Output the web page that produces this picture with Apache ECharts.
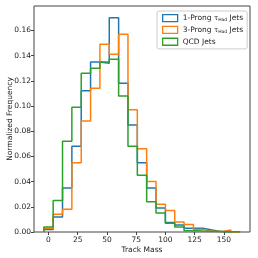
<!DOCTYPE html>
<html><head><meta charset="utf-8">
<script src="https://cdn.jsdelivr.net/npm/echarts@6/dist/echarts.min.js"></script>
<style>html,body{margin:0;padding:0;background:#fff}#c{width:258px;height:258px}</style>
</head><body><div id="c"></div>
<script>
var binEdges = [-4,4,12,20,28,36,44,52,60,68,76,84,92,100,108,116,124,132,140,148,156,164];
var oneProng = [0.002,0.012,0.035,0.068,0.112,0.135,0.134,0.170,0.118,0.085,0.055,0.035,0.019,0.0075,0.0055,0.003,0.003,0.0015,0.0003,0,0];
var threeProng = [0.003,0.014,0.018,0.055,0.088,0.114,0.149,0.141,0.157,0.097,0.066,0.040,0.022,0.017,0.008,0.006,0.002,0.0005,0.0003,0.0016,0];
var qcd = [0.004,0.025,0.072,0.099,0.126,0.130,0.135,0.137,0.108,0.068,0.045,0.024,0.015,0.007,0.004,0.001,0.0007,0.0005,0.0003,0.0001,0.0002];
var xTicks = [0,25,50,75,100,125,150];
var yTicks = [0,0.02,0.04,0.06,0.08,0.10,0.12,0.14,0.16];
var names = ['1-Prong {t|τ}{s|Had} Jets','3-Prong {t|τ}{s|Had} Jets','QCD Jets'];
var colors = ['#1f77b4','#ff7f0e','#2ca02c'];

function stepData(vals){
  var d = [[binEdges[0],0]];
  for (var i=0;i<vals.length;i++){ d.push([binEdges[i],vals[i]]); d.push([binEdges[i+1],vals[i]]); }
  d.push([binEdges[binEdges.length-1],0]);
  return d;
}
var span = binEdges[binEdges.length-1]-binEdges[0];
var xMin = binEdges[0]-0.05*span, xMax = binEdges[binEdges.length-1]+0.05*span;
var yMax = 0.170*1.055;
var font = 'DejaVu Sans';
var chart = echarts.init(document.getElementById('c'), null, {renderer:'canvas'});
var series = [oneProng, threeProng, qcd].map(function(v,i){
  return {name:names[i], type:'line', data:stepData(v), showSymbol:false, symbol:'none',
    lineStyle:{color:colors[i], width:1.5}, itemStyle:{color:colors[i]}, z:2+i, animation:false};
});
chart.setOption({
  animation:false,
  grid:{left:34,right:8,top:6,bottom:26,show:true,borderColor:'#444',borderWidth:1,backgroundColor:'transparent',
    outerBoundsMode:'none', containLabel:false},
  legend:{
    left:157, top:11, orient:'vertical', padding:[3,4,3,5], itemGap:3.5, itemWidth:15, itemHeight:7,
    backgroundColor:'#fff', borderColor:'#ccc', borderWidth:1, borderRadius:2,
    icon:'rect',
    textStyle:{fontFamily:font, fontSize:7.5, color:'#222',
      rich:{t:{fontFamily:font,fontSize:7,color:'#222'},s:{fontFamily:font,fontSize:4.5,color:'#222',padding:[3,0,0,0]}}},
    data: names.map(function(n,i){return {name:n, itemStyle:{color:'rgba(0,0,0,0)',borderColor:colors[i],borderWidth:1.3}};})
  },
  xAxis:{type:'value', min:xMin, max:xMax,
    name:'Track Mass', nameLocation:'middle', nameGap:14, nameMoveOverlap:false,
    nameTextStyle:{fontFamily:font,fontSize:7.5,color:'#222'},
    axisLine:{show:false, onZero:false}, splitLine:{show:false},
    axisTick:{show:true, length:3, lineStyle:{color:'#444'}, customValues:xTicks},
    axisLabel:{fontFamily:font,fontSize:7.5,color:'#222',margin:4, customValues:xTicks}
  },
  yAxis:{type:'value', min:0, max:yMax,
    name:'Normalized Frequency', nameLocation:'middle', nameGap:20, nameRotate:90, nameMoveOverlap:false,
    nameTextStyle:{fontFamily:font,fontSize:7.5,color:'#222'},
    axisLine:{show:false, onZero:false}, splitLine:{show:false},
    axisTick:{show:true, length:3, lineStyle:{color:'#444'}, customValues:yTicks},
    axisLabel:{fontFamily:font,fontSize:7.5,color:'#222',margin:3, customValues:yTicks,
      formatter:function(v){return v.toFixed(2);}}
  },
  series:series
});
</script></body></html>
